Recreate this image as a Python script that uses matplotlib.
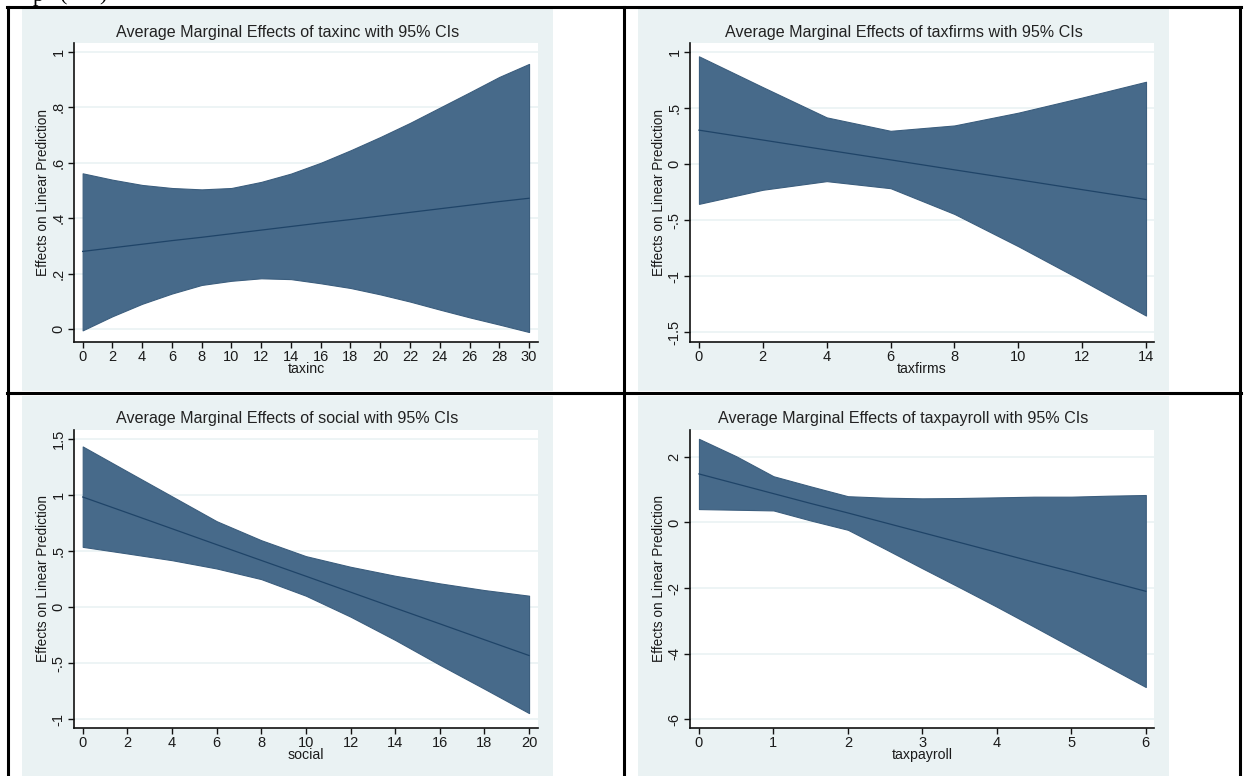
import matplotlib
matplotlib.use("Agg")
import matplotlib.pyplot as plt
from matplotlib.patches import Rectangle
from matplotlib.lines import Line2D

# ---------------- data ----------------
taxinc_x = [0, 2, 4, 6, 8, 10, 12, 14, 16, 18, 20, 22, 24, 26, 28, 30]
taxinc_hi = [0.562, 0.539, 0.520, 0.509, 0.504, 0.509, 0.531, 0.561, 0.600, 0.645,
             0.693, 0.744, 0.799, 0.854, 0.910, 0.957]
taxinc_lo = [-0.005, 0.046, 0.091, 0.128, 0.159, 0.174, 0.183, 0.180, 0.165, 0.148,
             0.125, 0.099, 0.070, 0.042, 0.016, -0.011]
taxinc_me = [0.280, 0.293, 0.306, 0.319, 0.331, 0.344, 0.357, 0.370, 0.383, 0.395,
             0.408, 0.421, 0.434, 0.447, 0.460, 0.472]

taxfirms_x = [0, 2, 4, 6, 8, 10, 12, 14]
taxfirms_hi = [0.961, 0.686, 0.416, 0.296, 0.344, 0.458, 0.593, 0.734]
taxfirms_lo = [-0.356, -0.230, -0.153, -0.216, -0.446, -0.734, -1.039, -1.353]
taxfirms_me = [0.302, 0.214, 0.125, 0.037, -0.052, -0.140, -0.229, -0.317]

social_x = [0, 2, 4, 6, 8, 10, 12, 14, 16, 18, 20]
social_hi = [1.433, 1.210, 0.988, 0.766, 0.596, 0.454, 0.359, 0.279, 0.211, 0.151, 0.101]
social_lo = [0.537, 0.478, 0.418, 0.344, 0.249, 0.101, -0.086, -0.294, -0.516, -0.730, -0.947]
social_me = [0.982, 0.841, 0.699, 0.557, 0.416, 0.275, 0.133, -0.009, -0.150, -0.292, -0.433]

taxpayroll_x = [0, 0.5, 1, 1.5, 2, 2.5, 3, 3.5, 4, 4.5, 5, 5.5, 6]
taxpayroll_hi = [2.55, 2.02, 1.41, 1.10, 0.80, 0.755, 0.735, 0.745, 0.765, 0.786, 0.786, 0.816, 0.837]
taxpayroll_lo = [0.408, 0.388, 0.367, 0.060, -0.224, -0.806, -1.398, -1.980, -2.571,
                 -3.180, -3.796, -4.408, -5.020]
taxpayroll_me = [1.48, 1.18, 0.88, 0.58, 0.29, -0.01, -0.31, -0.61, -0.91, -1.21, -1.50, -1.80, -2.10]

titles = ["Average Marginal Effects of taxinc with 95% CIs",
          "Average Marginal Effects of taxfirms with 95% CIs",
          "Average Marginal Effects of social with 95% CIs",
          "Average Marginal Effects of taxpayroll with 95% CIs"]
xtitles = ["taxinc", "taxfirms", "social", "taxpayroll"]
ytitle = "Effects on Linear Prediction"

xticks_list = [list(range(0, 31, 2)), list(range(0, 15, 2)),
               list(range(0, 21, 2)), list(range(0, 7, 1))]
yticks_list = [[0, 0.2, 0.4, 0.6, 0.8, 1], [-1.5, -1, -0.5, 0, 0.5, 1],
               [-1, -0.5, 0, 0.5, 1, 1.5], [-6, -4, -2, 0, 2]]
ylabels_list = [["0", ".2", ".4", ".6", ".8", "1"], ["-1.5", "-1", "-.5", "0", ".5", "1"],
                ["-1", "-.5", "0", ".5", "1", "1.5"], ["-6", "-4", "-2", "0", "2"]]

series = [(taxinc_x, taxinc_lo, taxinc_hi, taxinc_me),
          (taxfirms_x, taxfirms_lo, taxfirms_hi, taxfirms_me),
          (social_x, social_lo, social_hi, social_me),
          (taxpayroll_x, taxpayroll_lo, taxpayroll_hi, taxpayroll_me)]

# ---------------- layout (pixels) ----------------
W, H = 1248, 776
fig = plt.figure(figsize=(W / 100, H / 100), dpi=100)
fig.patch.set_facecolor("white")

def fx(px):
    return px / W

def fy(py):
    return 1 - py / H

FONT = "Liberation Sans"
TXT = "#1b1b1b"
BG = "#EAF2F3"
FILL = "#476A8A"
EDGE = "#3C5E7E"
LINE = "#1F4468"

bg_boxes = [(22, 553, 8, 391), (638, 1169, 8, 391), (22, 553, 396, 776), (638, 1169, 396, 776)]
plot_boxes = [(74, 538, 43, 342), (690, 1154, 43, 342), (74, 538, 430, 728), (690, 1154, 430, 728)]
xlims = [(-0.58, 30.6), (-0.28, 14.25), (-0.39, 20.4), (-0.12, 6.11)]
ylims = [(-0.047, 1.0325), (-1.589, 1.08), (-1.08, 1.58), (-6.27, 2.82)]

for i in range(4):
    bx0, bx1, by0, by1 = bg_boxes[i]
    fig.patches.append(Rectangle((fx(bx0), fy(by1)), fx(bx1 - bx0), (by1 - by0) / H,
                                 transform=fig.transFigure, facecolor=BG,
                                 edgecolor="none", zorder=-1))
    px0, px1, py0, py1 = plot_boxes[i]
    ax = fig.add_axes([fx(px0), fy(py1), fx(px1 - px0), (py1 - py0) / H])
    ax.set_zorder(2)
    ax.set_facecolor("white")
    x, lo, hi, me = series[i]
    ax.fill_between(x, lo, hi, facecolor=FILL, edgecolor=EDGE, linewidth=0.8, zorder=3)
    ax.plot(x, me, color=LINE, linewidth=0.9, zorder=4)
    ax.set_xlim(*xlims[i])
    ax.set_ylim(*ylims[i])
    ax.set_xticks(xticks_list[i])
    ax.set_xticklabels([str(v) for v in xticks_list[i]], fontfamily=FONT, fontsize=10.5, color=TXT)
    ax.set_yticks(yticks_list[i])
    ax.set_yticklabels(ylabels_list[i], fontfamily=FONT, fontsize=10.5, color=TXT,
                       rotation=90, va="center")
    ax.grid(axis="y", color=BG, linewidth=1.2, zorder=1)
    ax.set_axisbelow(True)
    for s in ("top", "right"):
        ax.spines[s].set_visible(False)
    for s in ("left", "bottom"):
        ax.spines[s].set_color("#111111")
        ax.spines[s].set_linewidth(1.2)
    ax.tick_params(axis="both", direction="out", length=4, width=1.0, color="#111111", pad=2)
    ax.set_xlabel(xtitles[i], fontfamily=FONT, fontsize=10.2, color=TXT, va="center")
    ax.xaxis.set_label_coords(0.5, -(27 / (py1 - py0)))
    ax.set_ylabel(ytitle, fontfamily=FONT, fontsize=9.8, color=TXT, va="center")
    ax.yaxis.set_label_coords(-(31 / (px1 - px0)), 0.5)
    fig.text(fx((bx0 + bx1) / 2), fy(py0 - 11), titles[i], fontfamily=FONT, fontsize=11.6,
             color="#222222", ha="center", va="center", zorder=3)

# ---------------- table borders ----------------
lw = 2.2
for (x0, y0, x1, y1) in [(7.5, 6.5, 7.5, 776), (623.5, 6.5, 623.5, 776), (1239.5, 6.5, 1239.5, 776),
                         (6.5, 6.5, 1240.5, 6.5), (6.5, 393, 1240.5, 393)]:
    fig.lines.append(Line2D([fx(x0), fx(x1)], [fy(y0), fy(y1)], transform=fig.transFigure,
                            color="black", linewidth=lw, zorder=5))

# cut-off caption text above the table (only its lower edge is visible in the reference)
for xpos, s in [(33, "p"), (60, "("), (99, ")")]:
    fig.text(fx(xpos), fy(0.5), s, fontfamily="Liberation Serif", fontsize=16,
             color="black", ha="left", va="baseline")

fig.savefig("out.png", dpi=100)
